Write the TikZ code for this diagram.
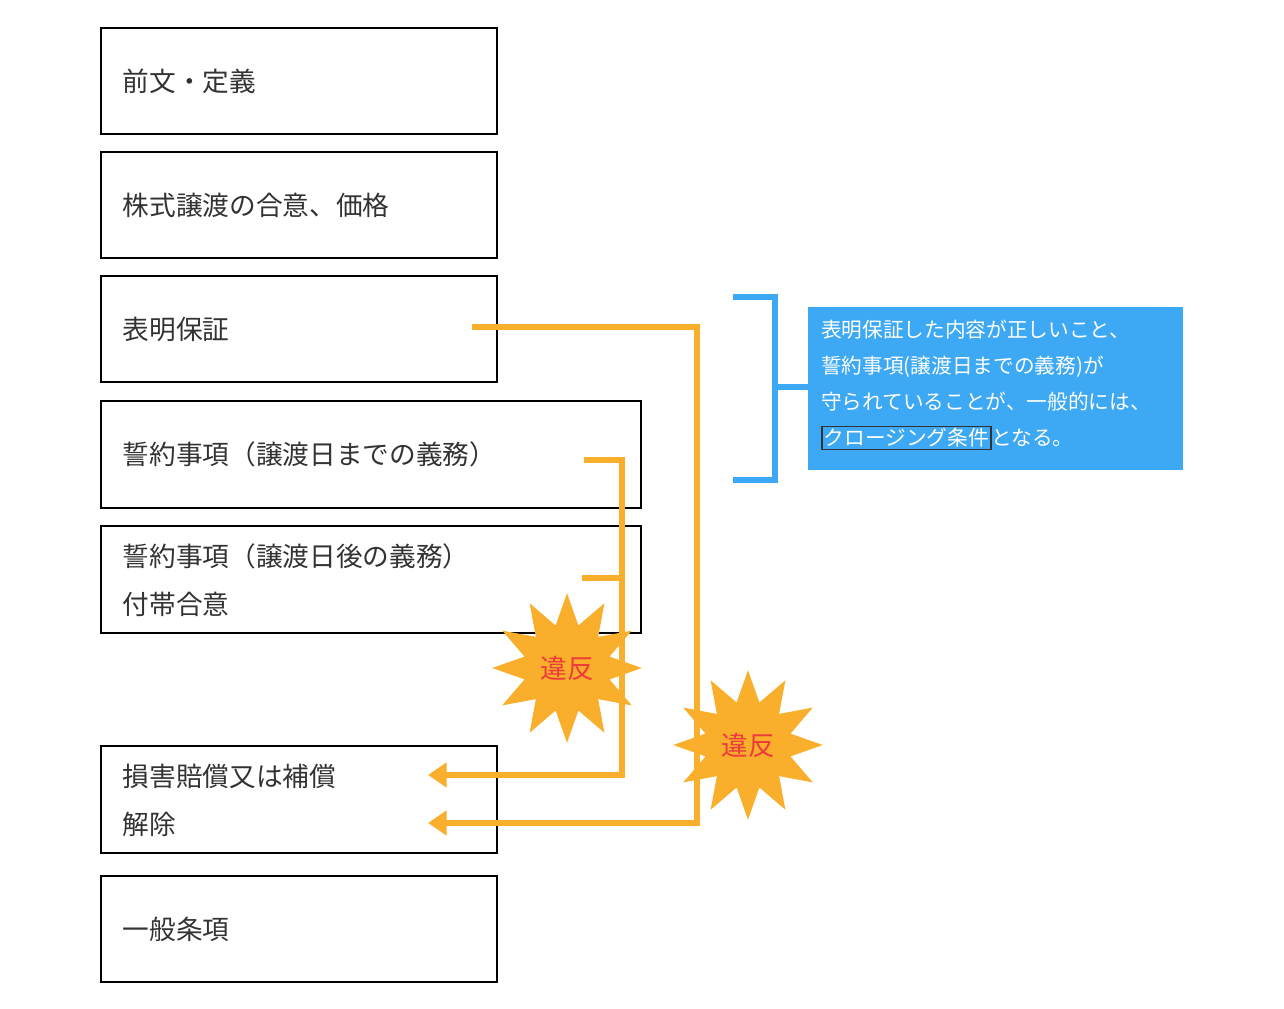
\documentclass[tikz,border=0pt]{standalone}
\usepackage{fontspec}
\setmainfont{Noto Sans CJK JP}
\usetikzlibrary{shapes.geometric,arrows.meta}
\definecolor{warnorange}{HTML}{F9AE2C}
\definecolor{infoblue}{HTML}{3DA8F4}
\definecolor{violred}{HTML}{EE3B3B}
\tikzset{
  clause/.style = {draw, line width=1.2pt, anchor=north west, inner sep=0pt},
  ctext/.style = {anchor=west, font=\fontsize{20}{24}\selectfont, text=black!80},
  flow/.style = {warnorange, line width=4.5pt},
  burst/.style = {star, star points=12, star point ratio=1.7, fill=warnorange, text=violred, font=\fontsize{20}{24}\selectfont}
}
\begin{document}
\begin{tikzpicture}[x=0.75pt, y=-0.75pt]
\useasboundingbox (0,0) rectangle (1284,1009);
% clause boxes
\node[clause, minimum width=396*0.75pt, minimum height=106*0.75pt] (pre) at (100,27) {};
\node[clause, minimum width=396*0.75pt, minimum height=106*0.75pt] (sale) at (100,151) {};
\node[clause, minimum width=396*0.75pt, minimum height=106*0.75pt] (rep) at (100,275) {};
\node[clause, minimum width=540*0.75pt, minimum height=107*0.75pt] (covA) at (100,400) {};
\node[clause, minimum width=540*0.75pt, minimum height=107*0.75pt] (covB) at (100,525) {};
\node[clause, minimum width=396*0.75pt, minimum height=107*0.75pt] (rem) at (100,745) {};
\node[clause, minimum width=396*0.75pt, minimum height=106*0.75pt] (gen) at (100,875) {};
\node[ctext] (preT) at (118,81) {前文・定義};
\node[ctext] (saleT) at (118,205) {株式譲渡の合意、価格};
\node[ctext] (repT) at (118,329) {表明保証};
\node[ctext] (covAT) at (118,454) {誓約事項（譲渡日までの義務）};
\node[ctext] (covBT) at (118,556) {誓約事項（譲渡日後の義務）};
\node[ctext] (covBT2) at (118,604) {付帯合意};
\node[ctext] (remT) at (118,776) {損害賠償又は補償};
\node[ctext] (remT2) at (118,824) {解除};
\node[ctext] (genT) at (118,929) {一般条項};
% orange flows
\coordinate (r0) at (472,327);
\coordinate (a0) at (584,460);
\coordinate (b0) at (582,578);
\coordinate (r1) at (428,823);
\coordinate (a1) at (428,775);
\draw[flow, -{Triangle[length=14pt,width=18pt]}] (r0) -- (697,327) -- (697,823) -- (r1);
\draw[flow, -{Triangle[length=14pt,width=18pt]}] (a0) -- (622,460) -- (622,775) -- (a1);
\draw[flow] (b0) -- (622,578);
\node[burst, minimum size=100pt] (vioA) at (567,668) {違反};
\node[burst, minimum size=108pt] (vioB) at (748,745) {違反};
% blue note
\draw[infoblue, line width=4.5pt] (733,297) -- (775,297) -- (775,480) -- (733,480);
\node[fill=infoblue, anchor=north west, minimum width=375*0.75pt, minimum height=163*0.75pt, inner sep=0pt] (note) at (808,307) {};
\draw[infoblue, line width=4.5pt] (775,387) -- (note.west |- 0,387);
\node[anchor=north west, text=white, align=left, inner sep=0pt,
  font=\fontsize{15.5}{27}\selectfont] (noteT) at (821,320)
  {表明保証した内容が正しいこと、\\誓約事項(譲渡日までの義務)が\\守られていることが、一般的には、\\\setlength{\fboxsep}{1pt}\setlength{\fboxrule}{1pt}{\color{black!80}\fbox{\color{white}クロージング条件}}となる。};
\end{tikzpicture}
\end{document}
